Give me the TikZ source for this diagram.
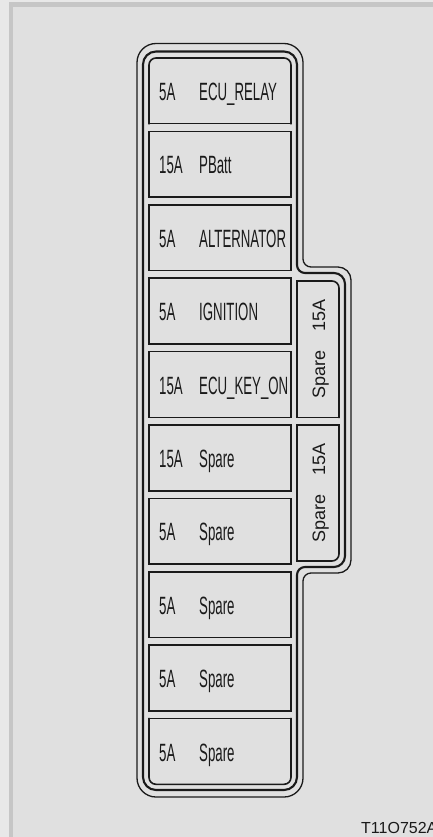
\documentclass[tikz,border=0pt]{standalone}
\usepackage{fontspec}
\setmainfont{Liberation Sans}
\newfontfamily\condensedfont{Liberation Sans}[FakeStretch=0.53]
\definecolor{PanelGray}{HTML}{E0E0E0}
\definecolor{FrameGray}{HTML}{C6C6C6}
\definecolor{MarginGray}{HTML}{E8E8E8}
\definecolor{BoxInk}{HTML}{1A1A1A}
\tikzset{
  every node/.style={inner sep=0pt, text=BoxInk},
  fuse/.style={draw=BoxInk, line width=1.6pt, line cap=rect},
  shellinner/.style={draw=BoxInk, line width=2.1pt},
  shellouter/.style={draw=BoxInk, line width=1.3pt},
  rating/.style={font=\condensedfont\fontsize{25}{29}\selectfont, anchor=base west},
  sparelabel/.style={font=\fontsize{18}{22}\selectfont, rotate=90, anchor=base},
}
\begin{document}
\begin{tikzpicture}[x=1pt,y=-1pt]
  \useasboundingbox (0,0) rectangle (433,837);
  % Panel with grey frame on top and left
  \fill[MarginGray] (0,0) rectangle (433,837);
  \fill[FrameGray] (9,2) rectangle (433,837);
  \fill[PanelGray] (13,7) rectangle (433,837);
  % Housing: outer and inner outline, bulge for the spare column
  \draw[shellouter] (220,43.5) [rounded corners=19pt] -- (303,43.5) -- (303,160)
    [rounded corners=8pt] -- (303,267) -- (325,267)
    [rounded corners=13pt] -- (351,267) -- (351,420) -- (351,573) -- (325,573)
    [rounded corners=8pt] -- (303,573) -- (303,680)
    [rounded corners=19pt] -- (303,797) -- (137,797) -- (137,43.5) -- cycle;
  \draw[shellinner] (220,51.5) [rounded corners=13pt] -- (297,51.5) -- (297,160)
    [rounded corners=8pt] -- (297,273) -- (319,273)
    [rounded corners=11pt] -- (345,273) -- (345,420) -- (345,567) -- (319,567)
    [rounded corners=8pt] -- (297,567) -- (297,680)
    [rounded corners=13pt] -- (297,790) -- (143,790) -- (143,51.5) -- cycle;
  % Fuse column: rows 1 and 10 rounded on the outside
  \draw[fuse, rounded corners=7pt] (149,123.7) -- (149,58) -- (291,58) -- (291,123.7);
  \draw[fuse] (149,123.7) -- (291,123.7);
  \foreach \i in {2,...,9}
    \draw[fuse] (149,{58+73.4*(\i-1)}) rectangle (291,{123.7+73.4*(\i-1)});
  \draw[fuse, rounded corners=7pt] (149,718.6) -- (149,784.3) -- (291,784.3) -- (291,718.6);
  \draw[fuse] (149,718.6) -- (291,718.6);
  % Spare column
  \draw[fuse, rounded corners=7pt] (297,281) -- (339,281) -- (339,417.3);
  \draw[fuse] (339,417.3) -- (297,417.3) -- (297,281);
  \draw[fuse, rounded corners=7pt] (297,561) -- (339,561) -- (339,425);
  \draw[fuse] (339,425) -- (297,425) -- (297,561);
  % Ratings and names
  \foreach \i/\amp/\name in {1/5A/ECU\_RELAY, 2/15A/PBatt, 3/5A/ALTERNATOR,
      4/5A/IGNITION, 5/15A/ECU\_KEY\_ON, 6/15A/Spare, 7/5A/Spare,
      8/5A/Spare, 9/5A/Spare, 10/5A/Spare}{
    \node[rating] (amp\i) at (159,{100.4+73.4*(\i-1)}) {\amp};
    \node[rating] (name\i) at (199,{100.4+73.4*(\i-1)}) {\name};
  }
  \node[sparelabel] (spareA) at (325,349) {Spare\hspace{19pt}15A};
  \node[sparelabel] (spareB) at (325,493) {Spare\hspace{19pt}15A};
  % Figure reference, cut by the page edge
  \node[font=\fontsize{16}{19}\selectfont, anchor=base west] (figref) at (361,833) {T11O752A};
\end{tikzpicture}
\end{document}
